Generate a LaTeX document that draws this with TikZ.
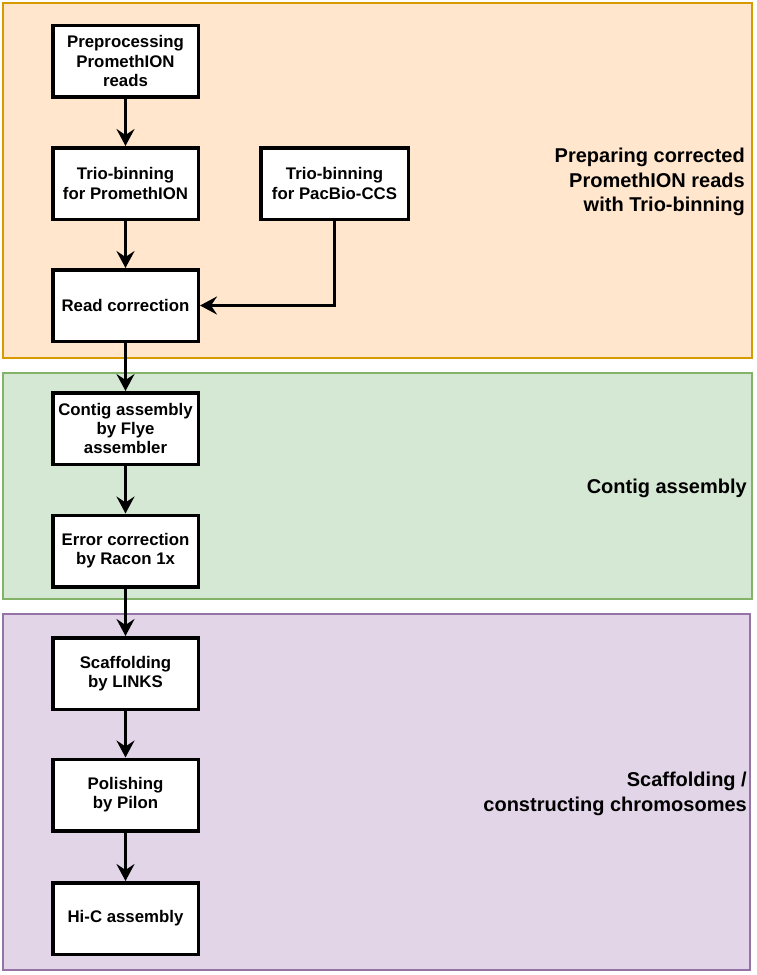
\documentclass[tikz,border=0pt]{standalone}
\usepackage{fontspec}
\setmainfont{Liberation Sans}
\usetikzlibrary{arrows.meta}
\definecolor{orfill}{HTML}{FFE6CC}
\definecolor{ordraw}{HTML}{D79B00}
\definecolor{grfill}{HTML}{D5E8D4}
\definecolor{grdraw}{HTML}{82B366}
\definecolor{pufill}{HTML}{E1D5E7}
\definecolor{pudraw}{HTML}{9673A6}
\begin{document}
\begin{tikzpicture}[x=1pt,y=-1pt,
  panel/.style={line width=2.2pt},
  stepbox/.style={draw=black, line width=3.5pt, fill=white, minimum width=145.5pt, minimum height=71.5pt, align=center, inner sep=0pt, font=\bfseries\fontsize{16.8}{19.2}\selectfont},
  paneltext/.style={anchor=east, align=right, inner sep=0pt, font=\bfseries\fontsize{20}{24.5}\selectfont},
  arr/.style={line width=3pt, -{Stealth[length=17pt,width=18pt,inset=6pt]}}]
\useasboundingbox (0,0) rectangle (756,975);
\fill[white] (0,0) rectangle (756,975);
% panels
\draw[panel, draw=ordraw, fill=orfill] (3,3) rectangle (752,358);
\draw[panel, draw=grdraw, fill=grfill] (3,373) rectangle (752,599);
\draw[panel, draw=pudraw, fill=pufill] (3,614) rectangle (750,970);
% panel labels
\node[paneltext] (lab1) at (745,182) {Preparing corrected\\PromethION reads\\with Trio-binning};
\node[paneltext] (lab2) at (747,488) {Contig assembly};
\node[paneltext] (lab3) at (747,794) {Scaffolding /\\constructing chromosomes};
% boxes
\node[stepbox] (pre) at (125.5,61) {Preprocessing\\PromethION\\reads};
\node[stepbox] (trio) at (125.5,183.5) {Trio-binning\\for PromethION};
\node[stepbox, minimum width=147.5pt] (pac) at (334.5,183.5) {Trio-binning\\for PacBio-CCS};
\node[stepbox] (read) at (125.5,305.5) {Read correction};
\node[stepbox] (contig) at (125.5,428.5) {Contig assembly\\by Flye\\assembler};
\node[stepbox] (err) at (125.5,551) {Error correction\\by Racon 1x};
\node[stepbox] (scaf) at (125.5,673.5) {Scaffolding\\by LINKS};
\node[stepbox] (pol) at (125.5,795) {Polishing\\by Pilon};
\node[stepbox] (hic) at (125.5,918.5) {Hi-C assembly};
% arrows
\draw[arr] (pre) -- (trio);
\draw[arr] (trio) -- (read);
\draw[arr] (pac.south) |- (read.east);
\draw[arr] (read) -- (contig);
\draw[arr] (contig) -- (err);
\draw[arr] (err) -- (scaf);
\draw[arr] (scaf) -- (pol);
\draw[arr] (pol) -- (hic);
\end{tikzpicture}
\end{document}
